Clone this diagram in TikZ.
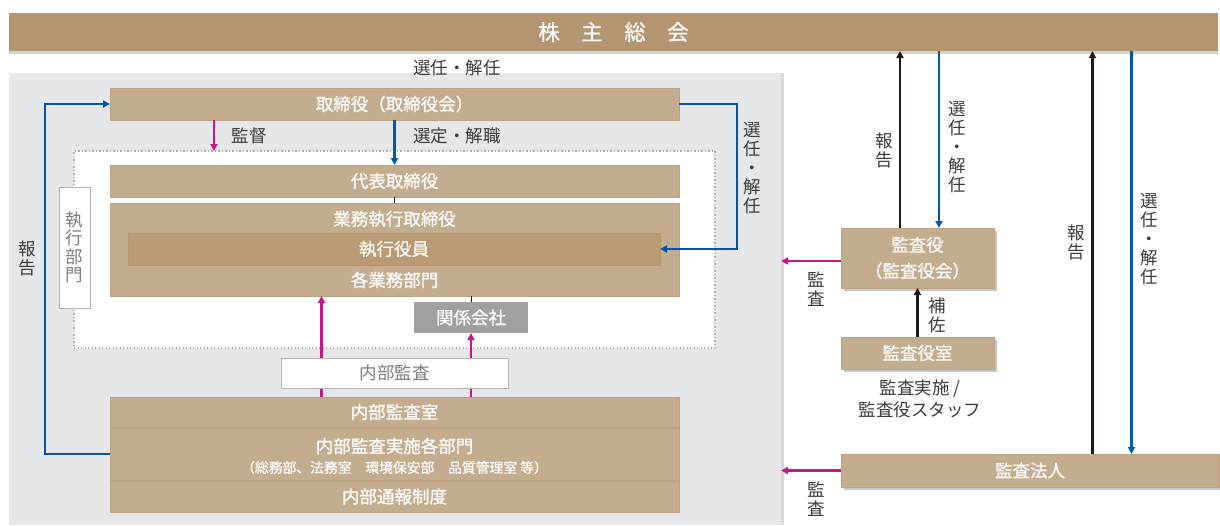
\documentclass[tikz,border=0pt]{standalone}
\usepackage{fontspec}
\setmainfont{Noto Sans CJK JP}
\newfontfamily\boxfont[FakeBold=0.5]{Noto Sans CJK JP}
\usetikzlibrary{arrows.meta,shadows}
\definecolor{tanhead}{HTML}{B39570}
\definecolor{tanbox}{HTML}{C4AD8F}
\definecolor{tanline}{HTML}{BCA282}
\definecolor{taninner}{HTML}{B89A74}
\definecolor{panelc}{HTML}{E6E7E9}
\definecolor{grayboxc}{HTML}{A0A0A0}
\definecolor{blueline}{HTML}{0057A8}
\definecolor{magline}{HTML}{C5168B}
\definecolor{blackline}{HTML}{231815}
\definecolor{labelc}{HTML}{3E3A39}
\definecolor{graytext}{HTML}{7D7D7D}
\begin{document}
\begin{tikzpicture}[x=1pt,y=-1pt,
  bx/.style={rectangle, fill=tanbox, draw=tanline, line width=0.6pt, text=white,
    inner sep=0pt, outer sep=0pt, font=\boxfont\fontsize{17.5}{19}\selectfont, align=center},
  txt/.style={text=white, inner sep=0pt, font=\boxfont\fontsize{17.5}{19}\selectfont},
  lbl/.style={text=labelc, inner sep=0pt, align=center, font=\fontsize{17.5}{19}\selectfont},
  tip/.style={-{Triangle[length=7pt,width=7pt]}},
  bl/.style={draw=blueline, line width=2.5pt, tip},
  mg/.style={draw=magline, line width=2.5pt, tip},
  bk/.style={draw=blackline, line width=2.2pt, tip},
  thinb/.style={draw=blackline, line width=0.8pt},
  wbox/.style={rectangle, fill=white, draw=gray!60, line width=0.8pt, inner sep=0pt, outer sep=0pt},
  shd/.style={drop shadow={shadow xshift=2.5pt, shadow yshift=-2.5pt, opacity=0.22, fill=black}}
]
\useasboundingbox (0,0) rectangle (1220,525);

% panel and head bar
\node[rectangle, fill=panelc, inner sep=0pt, outer sep=0pt, minimum width=772pt, minimum height=452pt,
  drop shadow={shadow xshift=3pt, shadow yshift=0pt, opacity=0.15, fill=black}] (panel) at (395,299) {};
\node[rectangle, fill=tanhead, inner sep=0pt, outer sep=0pt, minimum width=1209pt, minimum height=38pt,
  text=white, font=\boxfont\fontsize{21.5}{24}\selectfont,
  drop shadow={shadow xshift=0pt, shadow yshift=-3pt, opacity=0.18, fill=black}] (soukai) at (613.5,32) {株　主　総　会};

% executive area (dotted)
\node[rectangle, fill=white, draw=gray!65, line width=1.3pt, dash pattern=on 1.3pt off 2.2pt,
  inner sep=0pt, outer sep=0pt, minimum width=641pt, minimum height=197pt] (exec) at (394.5,249.5) {};

\node[bx, minimum width=569pt, minimum height=32pt] (tori) at (394.5,104) {取締役（取締役会）};
\node[bx, minimum width=569pt, minimum height=32pt] (daihyo) at (394.5,181) {代表取締役};
\node[bx, minimum width=569pt, minimum height=93pt] (gyomu) at (394.5,249.5) {};
\node[txt] (gyomuT) at (394.5,219) {業務執行取締役};
\node[txt] (kakuT) at (394.5,280) {各業務部門};
\node[bx, fill=taninner, draw=tanhead, minimum width=532pt, minimum height=32pt] (shikko) at (394,249) {執行役員};
\node[wbox, minimum width=31pt, minimum height=121pt, text=graytext, align=center,
  font=\fontsize{17.5}{18.5}\selectfont] (bumon) at (74.5,247.5) {執\\行\\部\\門};
\node[rectangle, fill=grayboxc, inner sep=0pt, outer sep=0pt, minimum width=114pt, minimum height=31pt,
  text=white, font=\boxfont\fontsize{17.5}{19}\selectfont] (kankei) at (471,317.5) {関係会社};

\node[bx, minimum width=569pt, minimum height=30pt] (kshitsu) at (394.5,412) {内部監査室};
\node[bx, minimum width=569pt, minimum height=52pt] (jisshi) at (394.5,454) {};
\node[txt] (jisshiT) at (394.5,446) {内部監査実施各部門};
\node[txt, font=\boxfont\fontsize{13.8}{16}\selectfont] (jisshiS) at (394.5,467.5) {（総務部、法務室　環境保安部　品質管理室 等）};
\node[bx, minimum width=569pt, minimum height=31pt] (tsuho) at (394.5,496.5) {内部通報制度};

% right side boxes
\node[bx, shd, minimum width=153pt, minimum height=60pt, font=\boxfont\fontsize{17.5}{26}\selectfont] (kansayaku) at (917.5,258) {監査役\\（監査役会）};
\node[bx, shd, minimum width=153pt, minimum height=32pt] (kysitsu) at (917.5,353) {監査役室};
\node[bx, shd, minimum width=378pt, minimum height=33pt] (hojin) at (1030,470.5) {監査法人};

% helper coordinates
\coordinate (xk) at (214,0);
\coordinate (xr) at (737,0);
\coordinate (xl) at (45,0);
\coordinate (xa) at (321.5,0);
\coordinate (xb) at (471,0);
\coordinate (xr1) at (900,0);
\coordinate (xr2) at (939,0);
\coordinate (xr3) at (1092.5,0);
\coordinate (xr4) at (1131.5,0);

% left connectors
\draw[mg] (tori.south -| xk) -- (exec.north -| xk);
\draw[bl] (tori.south) -- (daihyo.north);
\draw[thinb] (daihyo.south) -- (gyomu.north);
\draw[thinb] (gyomu.south -| kankei.north) -- (kankei.north);
\draw[bl] (tori.east) -- (tori.east -| xr) -- (shikko.east -| xr) -- (shikko.east);
\draw[bl] (jisshi.west) -- (jisshi.west -| xl) -- (tori.west -| xl) -- (tori.west);
\draw[mg] (kshitsu.north -| xa) -- (gyomu.south -| xa);
\draw[mg] (kshitsu.north -| xb) -- (kankei.south -| xb);
\node[wbox, minimum width=227pt, minimum height=30pt, text=graytext, font=\fontsize{17.5}{19}\selectfont] (naibu) at (394.5,373) {内部監査};

% right connectors
\draw[bk] (kansayaku.north -| xr1) -- (soukai.south -| xr1);
\draw[bl] (soukai.south -| xr2) -- (kansayaku.north -| xr2);
\draw[mg] ([yshift=-3pt]kansayaku.west) -- ([yshift=-3pt]kansayaku.west -| panel.east);
\draw[bk] (kysitsu.north) -- (kansayaku.south);
\draw[bk] (hojin.north -| xr3) -- (soukai.south -| xr3);
\draw[bl] (soukai.south -| xr4) -- (hojin.north -| xr4);
\draw[mg] (hojin.west) -- (hojin.west -| panel.east);

% labels
\node[lbl] (l1) at (457,68) {選任・解任};
\node[lbl] (l2) at (249,136) {監督};
\node[lbl] (l3) at (457,136) {選定・解職};
\node[lbl] (l4) at (752,168) {選\\任\\・\\解\\任};
\node[lbl] (l5) at (27,258) {報\\告};
\node[lbl] (l6) at (884,150) {報\\告};
\node[lbl] (l7) at (957,147) {選\\任\\・\\解\\任};
\node[lbl] (l8) at (816,289) {監\\査};
\node[lbl] (l9) at (937,315) {補\\佐};
\node[lbl, font=\fontsize{17.5}{22}\selectfont] (l10) at (920,399) {監査実施 /\\監査役スタッフ};
\node[lbl] (l12) at (1076,242) {報\\告};
\node[lbl] (l13) at (1149,239) {選\\任\\・\\解\\任};
\node[lbl] (l14) at (816,499) {監\\査};
\end{tikzpicture}
\end{document}
